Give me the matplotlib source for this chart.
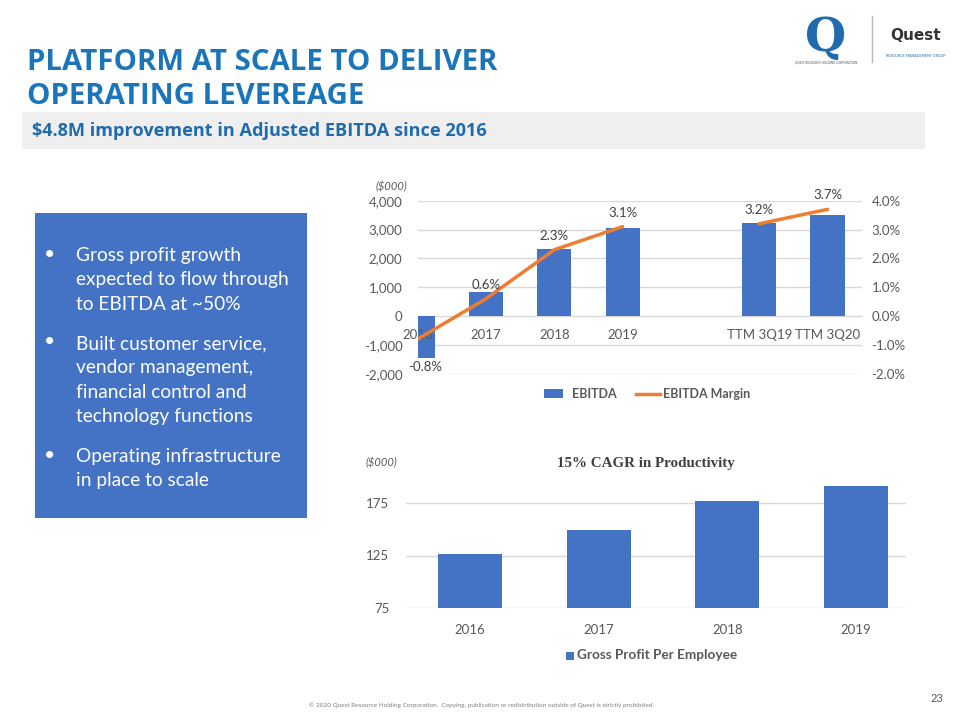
import matplotlib
matplotlib.use("Agg")
import matplotlib.pyplot as plt
import numpy as np
from matplotlib.patches import Rectangle
from matplotlib.lines import Line2D

# ---------------- data ----------------
ebitda_categories = ["2016", "2017", "2018", "2019", "", "TTM 3Q19", "TTM 3Q20"]
ebitda_values = [-1470, 830, 2310, 3040, np.nan, 3220, 3500]          # $000
ebitda_margin = [-0.8, 0.6, 2.3, 3.1, np.nan, 3.2, 3.7]               # %
left_ticks = [-2000, -1000, 0, 1000, 2000, 3000, 4000]
right_ticks = [-2.0, -1.0, 0.0, 1.0, 2.0, 3.0, 4.0]

gp_categories = ["2016", "2017", "2018", "2019"]
gp_values = [126, 149, 177, 192]                                      # $000
gp_ticks = [75, 125, 175]

bullets = [
    "Gross profit growth\nexpected to flow through\nto EBITDA at ~50%",
    "Built customer service,\nvendor management,\nfinancial control and\ntechnology functions",
    "Operating infrastructure\nin place to scale",
]

BLUE = "#4472C4"
ORANGE = "#ED7D31"
GRAY = "#595959"
GRID = "#D9D9D9"
FONT = ["Lato", "DejaVu Sans"]

plt.rcParams["font.family"] = FONT

W, H = 960, 720
fig = plt.figure(figsize=(9.6, 7.2), dpi=100)
fig.patch.set_facecolor("white")

def fx(x):
    return x / W

def fy(y):
    return 1 - y / H

# ---------------- header ----------------
fig.text(fx(27), fy(62), "PLATFORM AT SCALE TO DELIVER", family="Open Sans",
         weight="bold", fontsize=21.2, color="#1B75BB", va="center", ha="left")
fig.text(fx(27), fy(97), "OPERATING LEVEREAGE", family="Open Sans",
         weight="bold", fontsize=21.2, color="#1B75BB", va="center", ha="left")
fig.patches.append(Rectangle((fx(22), fy(149)), fx(925) - fx(22), fy(112) - fy(149),
                             transform=fig.transFigure, facecolor="#EFEFEF",
                             edgecolor="none", zorder=0))
fig.text(fx(32), fy(131), "$4.8M improvement in Adjusted EBITDA since 2016",
         family="Open Sans", weight="bold", fontsize=13.1, color="#1F6BAE",
         va="center", ha="left")

# logo approximation
fig.text(fx(826), fy(38), "Q", family="DejaVu Serif", weight="bold", fontsize=34,
         color="#1F6BAE", ha="center", va="center")
fig.text(fx(826), fy(62), "QUEST RESOURCE HOLDING CORPORATION", fontsize=2.2,
         color="#555555", ha="center", va="center")
fig.lines.append(Line2D([fx(872), fx(872)], [fy(16), fy(62)], transform=fig.transFigure,
                        color="#BBBBBB", lw=1))
fig.text(fx(916), fy(35), "Quest", family="DejaVu Sans", weight="bold", fontsize=11,
         color="#333333", ha="center", va="center")
fig.text(fx(916), fy(56), "RESOURCE MANAGEMENT GROUP", fontsize=2.6,
         color="#1F6BAE", ha="center", va="center")

# ---------------- bullet box ----------------
fig.patches.append(Rectangle((fx(35), fy(518)), fx(307) - fx(35), fy(213) - fy(518),
                             transform=fig.transFigure, facecolor=BLUE,
                             edgecolor="none", zorder=0))
bullet_y = [254, 342, 455]
for by, txt in zip(bullet_y, bullets):
    fig.text(fx(50), fy(by), "•", fontsize=14, color="white", ha="center", va="center")
    fig.text(fx(76), fy(by - 7), txt, fontsize=13.8, color="white", ha="left", va="top",
             linespacing=1.52)

# ---------------- top chart ----------------
ax1 = fig.add_axes([fx(417.7), fy(373.7), fx(861.7) - fx(417.7), fy(200.7) - fy(373.7)])
x1 = np.arange(len(ebitda_categories))
for t in left_ticks:
    ax1.axhline(t, color=GRID, lw=1, zorder=0.5)
ax1.bar(x1, ebitda_values, width=0.5, color=BLUE, zorder=2)
ax1.set_xlim(0, 6.5)
ax1.set_ylim(-2000, 4000)
ax1.set_yticks(left_ticks)
ax1.set_yticklabels([f"{v:,}" for v in left_ticks])
for s in ax1.spines.values():
    s.set_visible(False)
ax1.tick_params(axis="both", length=0, labelsize=9.5, labelcolor=GRAY)
ax1.tick_params(axis="x", labelbottom=False)
ax1.tick_params(axis="y", pad=11)

ax2 = ax1.twinx()
ax2.plot(x1, ebitda_margin, color=ORANGE, lw=2.5, zorder=3, solid_capstyle="round")
ax2.set_ylim(-2.0, 4.0)
ax2.set_yticks(right_ticks)
ax2.set_yticklabels([f"{v:.1f}%" for v in right_ticks])
ax2.tick_params(axis="y", length=0, labelsize=9.5, labelcolor=GRAY, pad=7)
for s in ax2.spines.values():
    s.set_visible(False)
# category labels sit on the zero line, drawn above the bars
ax2.xaxis.set_visible(True)
ax2.spines["bottom"].set_position(("data", 0))
ax2.set_xticks(x1)
ax2.set_xticklabels(ebitda_categories)
ax2.tick_params(axis="x", length=0, labelsize=9.5, labelcolor=GRAY, pad=9,
                labelbottom=True)
for xi, m in zip(x1, ebitda_margin):
    if np.isnan(m):
        continue
    if m < 0:
        ax2.annotate(f"{m:.1f}%", (xi, m), xytext=(5, -20), textcoords="offset points",
                     ha="center", va="center", fontsize=9.5, color="#404040")
    else:
        ax2.annotate(f"{m:.1f}%", (xi, m), xytext=(0, 10), textcoords="offset points",
                     ha="center", va="center", fontsize=9.5, color="#404040")

fig.text(fx(391), fy(187), "($000)", fontsize=8, style="italic", color=GRAY,
         ha="center", va="center")

# top legend
fig.patches.append(Rectangle((fx(544), fy(398)), fx(19), fy(389) - fy(398),
                             transform=fig.transFigure, facecolor=BLUE, edgecolor="none"))
fig.text(fx(572), fy(394), "EBITDA", fontsize=9, weight="bold", color=GRAY,
         ha="left", va="center")
fig.lines.append(Line2D([fx(636), fx(660)], [fy(394), fy(394)], transform=fig.transFigure,
                        color=ORANGE, lw=2.5))
fig.text(fx(663), fy(394), "EBITDA Margin", fontsize=9, weight="bold", color=GRAY,
         ha="left", va="center")

# ---------------- bottom chart ----------------
ax3 = fig.add_axes([fx(406), fy(607.7), fx(906) - fx(406), fy(477.2) - fy(607.7)])
x3 = np.arange(len(gp_categories))
ax3.bar(x3, gp_values, width=0.5, color=BLUE, zorder=2)
ax3.set_xlim(-0.5, 3.39)
ax3.set_ylim(75, 200)
ax3.set_yticks(gp_ticks)
ax3.yaxis.grid(True, color=GRID, lw=1)
ax3.set_axisbelow(True)
for s in ax3.spines.values():
    s.set_visible(False)
ax3.set_xticks(x3)
ax3.set_xticklabels(gp_categories)
ax3.tick_params(axis="both", length=0, labelsize=9.5, labelcolor=GRAY)
ax3.tick_params(axis="x", pad=12)
ax3.tick_params(axis="y", pad=12)

fig.text(fx(381), fy(463), "($000)", fontsize=8, style="italic", color=GRAY,
         ha="center", va="center")
fig.text(fx(646), fy(463), "15% CAGR in Productivity", family="Liberation Serif",
         weight="bold", fontsize=10.8, color="#404040", ha="center", va="center")

fig.patches.append(Rectangle((fx(566), fy(660)), fx(8), fy(652) - fy(660),
                             transform=fig.transFigure, facecolor=BLUE, edgecolor="none"))
fig.text(fx(577), fy(655), "Gross Profit Per Employee", fontsize=9.8, weight="bold",
         color=GRAY, ha="left", va="center")

# ---------------- footer ----------------
fig.text(fx(481), fy(705), "© 2020 Quest Resource Holding Corporation.  Copying, publication or "
         "redistribution outside of Quest is strictly prohibited.", fontsize=4.55,
         color="#7F7F7F", ha="center", va="center")
fig.text(fx(937), fy(699), "23", fontsize=8, color=GRAY, ha="center", va="center")

fig.savefig("out.png", dpi=100, facecolor="white")
